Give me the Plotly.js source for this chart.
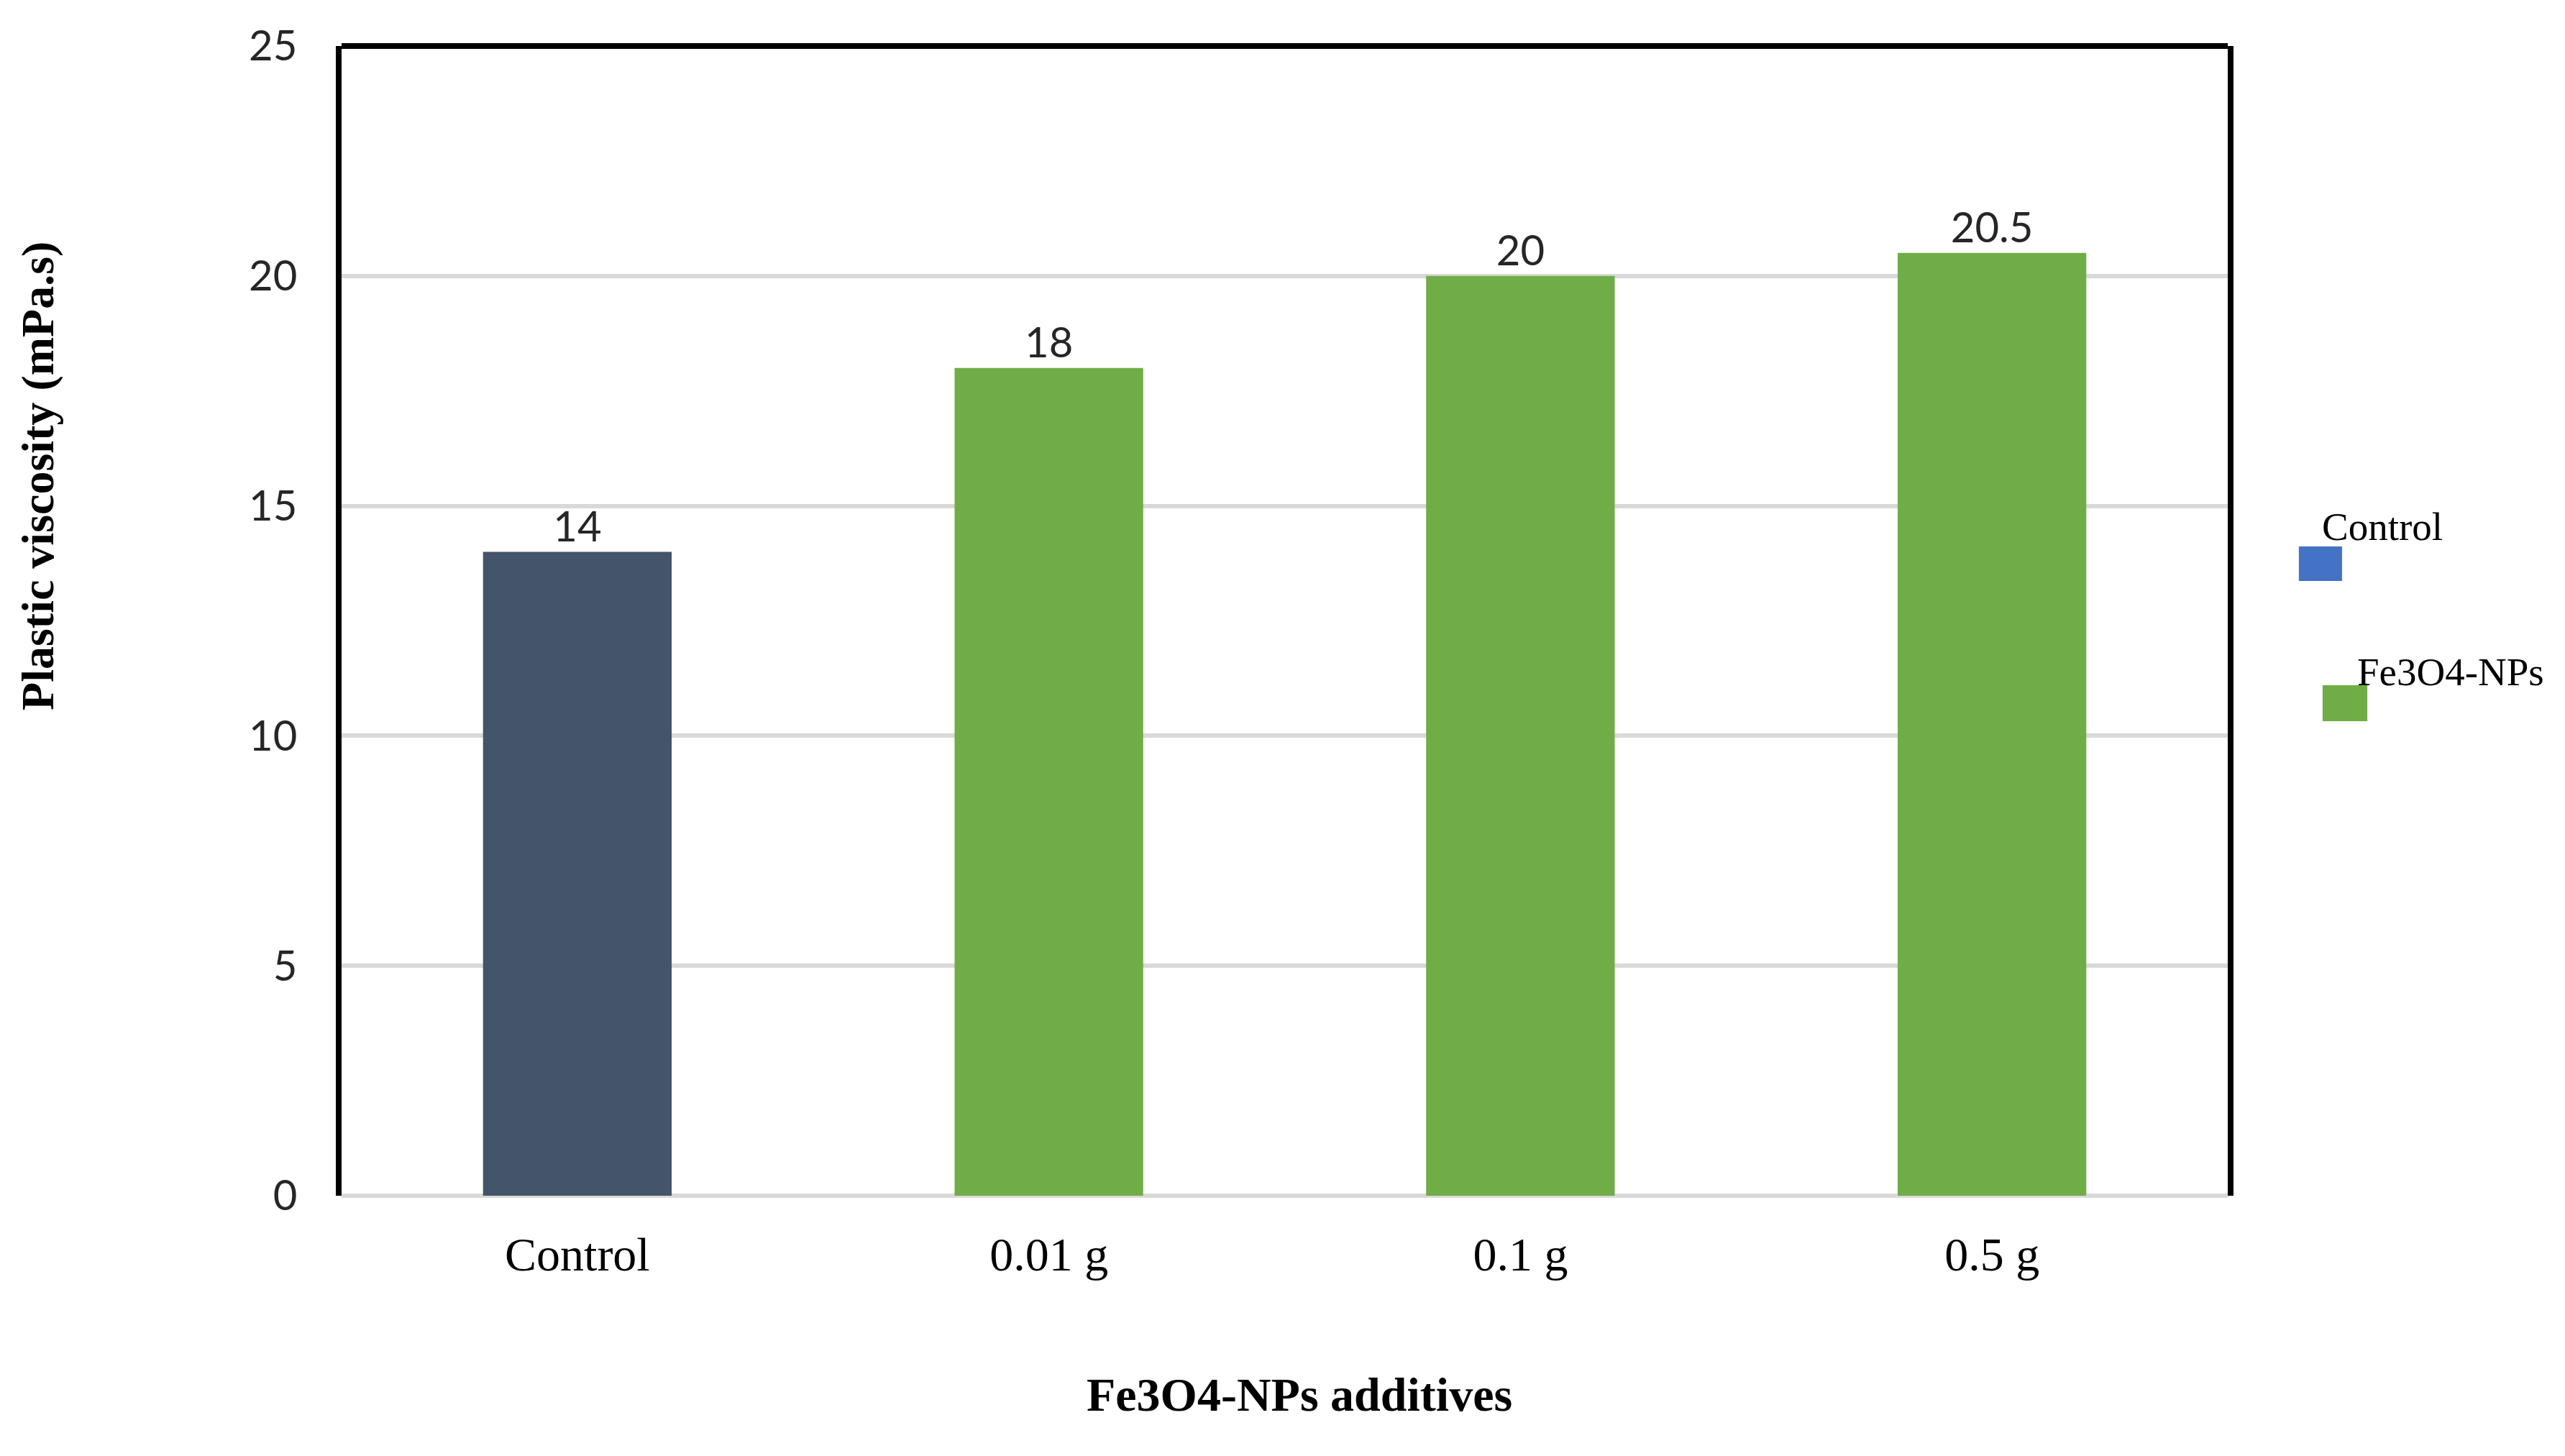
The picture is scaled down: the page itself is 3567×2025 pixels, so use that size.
<!DOCTYPE html>
<html>
<head>
<meta charset="utf-8">
<script src="https://cdn.plot.ly/plotly-3.0.1.min.js"></script>
<style>html,body{margin:0;padding:0;background:#fff;}#chart{width:3567px;height:2025px;}</style>
</head>
<body>
<div id="chart"></div>
<script>
const categories = ["Control", "0.01 g", "0.1 g", "0.5 g"];
const viscosity = [14, 18, 20, 20.5];
const valueLabels = ["14", "18", "20", "20.5"];
const barColors = ["#44546A", "#70AD47", "#70AD47", "#70AD47"];
const legendNames = ["Control", "Fe3O4-NPs"];
const legendColors = ["#4472C4", "#70AD47"];
const yTicks = [0, 5, 10, 15, 20, 25];
const xTitle = "Fe3O4-NPs additives";
const yTitle = "Plastic viscosity (mPa.s)";

const serif = "'Liberation Serif', 'Times New Roman', serif";
const sans = "Lato, 'Open Sans', sans-serif";

const trace = {
  type: "bar",
  x: categories,
  y: viscosity,
  width: 0.4,
  marker: {color: barColors},
  text: valueLabels,
  textposition: "outside",
  cliponaxis: false,
  textfont: {family: sans, size: 58, color: "#262626"},
  hoverinfo: "none",
  showlegend: false
};

const layout = {
  width: 3567,
  height: 2025,
  margin: {l: 475, r: 469, t: 64, b: 362},
  paper_bgcolor: "#ffffff",
  plot_bgcolor: "#ffffff",
  showlegend: false,
  xaxis: {
    type: "category",
    showgrid: false,
    showline: false,
    zeroline: false,
    ticks: "",
    ticklabelstandoff: 37,
    tickfont: {family: serif, size: 66, color: "#000000"},
    automargin: false
  },
  yaxis: {
    range: [0, 25],
    tickvals: yTicks,
    ticktext: yTicks.map(String),
    showgrid: true,
    gridcolor: "#D9D9D9",
    gridwidth: 6,
    zeroline: true,
    zerolinecolor: "#D9D9D9",
    zerolinewidth: 6,
    showline: true,
    mirror: true,
    linecolor: "#000000",
    linewidth: 8,
    ticks: "",
    ticklabelstandoff: 42,
    tickfont: {family: sans, size: 58, color: "#262626"},
    automargin: false
  },
  shapes: [
    {type: "line", xref: "paper", yref: "paper", x0: 0, x1: 1, y0: 1, y1: 1,
     line: {color: "#000000", width: 8}},
    {type: "rect", xref: "paper", yref: "paper", x0: 1.0377, x1: 1.0606, y0: 0.5347, y1: 0.5647,
     fillcolor: legendColors[0], line: {width: 0}},
    {type: "rect", xref: "paper", yref: "paper", x0: 1.0503, x1: 1.0740, y0: 0.4128, y1: 0.4440,
     fillcolor: legendColors[1], line: {width: 0}}
  ],
  annotations: [
    {xref: "paper", yref: "paper", x: 1.049, y: 0.582, xanchor: "left", yanchor: "middle",
     text: legendNames[0], showarrow: false,
     font: {family: serif, size: 55, color: "#000000"}},
    {xref: "paper", yref: "paper", x: 1.068, y: 0.4553, xanchor: "left", yanchor: "middle",
     text: legendNames[1], showarrow: false,
     font: {family: serif, size: 55, color: "#000000"}},
    {xref: "paper", yref: "paper", x: 0.5078, y: -0.1732, xanchor: "center", yanchor: "middle",
     text: xTitle, showarrow: false,
     font: {family: serif, size: 66, color: "#000000", weight: "bold"}},
    {xref: "paper", yref: "paper", x: -0.1613, y: 0.626, xanchor: "center", yanchor: "middle",
     text: yTitle, showarrow: false, textangle: -90,
     font: {family: serif, size: 64, color: "#000000", weight: "bold"}}
  ]
};

Plotly.newPlot("chart", [trace], layout, {displayModeBar: false, staticPlot: true});
</script>
</body>
</html>
